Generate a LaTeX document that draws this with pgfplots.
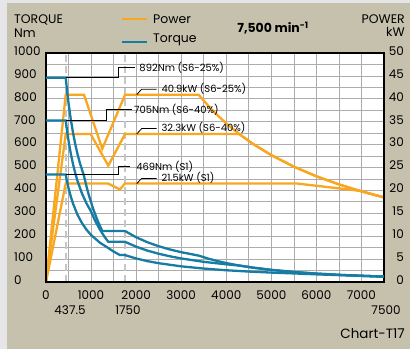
\documentclass[border=0pt]{standalone}
\usepackage{pgfplots}
\pgfplotsset{compat=1.18}
\usepackage{fontspec}
\setmainfont{Poppins}
\definecolor{bgbeige}{RGB}{197,193,173}
\definecolor{bggray}{RGB}{230,230,233}
\definecolor{porange}{RGB}{248,167,30}
\definecolor{tblue}{RGB}{22,124,163}
\definecolor{gridgray}{RGB}{172,172,172}
\newcommand{\tickfont}{\fontsize{12}{14}\selectfont}
\newcommand{\annfont}{\fontsize{10}{12}\selectfont}
\begin{document}
\begin{tikzpicture}
\fill[bggray] (0bp,0bp) rectangle (410bp,349bp);
\fill[bgbeige] (7bp,0bp) rectangle (410bp,346bp);
% ---------- power axis (right) ----------
\begin{axis}[
  at={(46bp,67bp)}, anchor=south west,
  scale only axis, width=338bp, height=229bp,
  xmin=0, xmax=7500, ymin=0, ymax=50,
  axis background/.style={fill=white},
  xtick={0,1000,2000,3000,4000,5000,6000,7000},
  xticklabels={0,1000,2000,3000,4000,5000,6000,7000},
  minor x tick num=1,
  ytick={0,5,...,50}, minor y tick num=1,
  grid=both,
  grid style={gridgray, line width=0.7bp},
  minor grid style={gridgray, line width=0.7bp},
  major tick length=0pt, minor tick length=0pt,
  axis line style={line width=1.6bp, black},
  yticklabel pos=right,
  yticklabel style={anchor=east, xshift=20bp, yshift=2bp, inner sep=0pt},
  xticklabel style={anchor=center, yshift=-13bp, inner sep=0pt},
  scaled x ticks=false, scaled y ticks=false,
  /pgf/number format/1000 sep={},
  /pgf/number format/assume math mode=true,
  tick label style={font=\tickfont},
  clip=true,
]
% reference lines at base speeds
\addplot[gray!45, line width=1.6bp, dash pattern=on 7bp off 4bp] coordinates {(437.5,0) (437.5,50)};
\addplot[gray!45, line width=1.6bp, dash pattern=on 7bp off 4bp] coordinates {(1750,0) (1750,50)};
% Power S6-25%
\addplot[porange, line width=2.3bp] coordinates {
(0,0) (437.5,40.9) (843,40.9) (1249,29.1) (1755,40.9) (3386,40.9) (3600,38.47) (3800,36.45) (4000,34.63) (4288,32.30) (4600,30.11) (5000,27.70) (5500,25.18) (6000,23.08) (6500,21.31) (6950,19.93) (7000,19.79) (7500,18.47)};
% Power S6-40%
\addplot[porange, line width=2.3bp] coordinates {
(0,0) (437.5,32.3) (991,32.3) (1382,25.4) (1753,32.3) (4288,32.3) (4600,30.11) (5000,27.70) (5500,25.18) (6000,23.08) (6500,21.31) (6950,19.93) (7000,19.79) (7500,18.47)};
% Power S1
\addplot[porange, line width=2.3bp] coordinates {
(0,0) (437.5,21.5) (1376,21.5) (1640,20.2) (1750,21.5) (5570,21.5) (6950,19.93) (7000,19.79) (7500,18.47)};
\end{axis}
% ---------- torque axis (left) ----------
\begin{axis}[
  at={(46bp,67bp)}, anchor=south west,
  scale only axis, width=338bp, height=229bp,
  xmin=0, xmax=7500, ymin=0, ymax=1000,
  xtick=\empty,
  ytick={0,100,...,1000},
  major tick length=0pt,
  axis line style={line width=1.6bp, black},
  yticklabel style={anchor=west, xshift=-32bp, yshift=2bp, inner sep=0pt},
  scaled y ticks=false,
  /pgf/number format/1000 sep={},
  /pgf/number format/assume math mode=true,
  tick label style={font=\tickfont},
  clip=true,
]
% Torque S6-25%
\addplot[tblue, line width=2.3bp] coordinates {
(0,892) (437.5,892) (475,822.2) (500,781.1) (550,710.1) (600,650.9) (650,600.9) (700,558.0) (750,520.8) (843,463.3) (900,416.3) (950,379.9) (1050,317.2) (1150,265.5) (1249,222.5) (1755,222.5) (2000,195.3) (2250,173.6) (2500,156.2) (2750,142.0) (3000,130.2) (3386,115.3) (3600,102.1) (3800,91.6) (4000,82.7) (4288,71.9) (4600,62.5) (5000,52.9) (5500,43.7) (6000,36.7) (6500,31.3) (7000,27.0) (7500,23.5)};
% Torque S6-40%
\addplot[tblue, line width=2.3bp] coordinates {
(0,705) (437.5,705) (475,649.4) (500,616.9) (550,560.8) (600,514.1) (650,474.5) (700,440.6) (800,385.6) (900,342.7) (991,311.2) (1100,263.7) (1200,227.7) (1300,197.2) (1382,175.5) (1753,175.5) (2000,154.2) (2250,137.1) (2500,123.4) (2750,112.2) (3000,102.8) (3500,88.1) (4000,77.1) (4288,71.9) (4600,62.5) (5000,52.9) (5500,43.7) (6000,36.7) (6500,31.3) (7000,27.0) (7500,23.5)};
% Torque S1
\addplot[tblue, line width=2.3bp] coordinates {
(0,469) (437.5,469) (475,432.2) (500,410.6) (550,373.3) (600,342.2) (700,293.3) (800,256.6) (900,228.1) (1000,205.3) (1200,171.1) (1376,149.2) (1500,133.0) (1640,117.6) (1750,117.6) (2000,102.7) (2250,91.2) (2500,82.1) (3000,68.4) (3500,58.7) (4000,51.3) (4500,45.6) (5000,41.1) (5570,36.9) (6000,33.4) (6500,30.0) (6950,27.4) (7000,27.0) (7500,23.5)};
% leader lines (torque)
\addplot[black, line width=0.8bp] coordinates {(437.5,892) (1600,892) (1600,937) (1975,937)};
\addplot[black, line width=0.8bp] coordinates {(437.5,705) (1345,705) (1345,752) (1900,752)};
\addplot[black, line width=0.8bp] coordinates {(437.5,469) (1600,469) (1600,505) (1870,505)};
% leader lines (power, kW x 20)
\addplot[black, line width=0.8bp] coordinates {(2012,818) (2123,842) (2456,842)};
\addplot[black, line width=0.8bp] coordinates {(2012,646) (2123,670) (2456,670)};
\addplot[black, line width=0.8bp] coordinates {(2012,430) (2123,452) (2456,452)};
\node[anchor=west, inner sep=0pt, font=\annfont] at (axis cs:2070,937) {892Nm (S6-25\%)};
\node[anchor=west, inner sep=0pt, font=\annfont] at (axis cs:1950,752) {705Nm (S6-40\%)};
\node[anchor=west, inner sep=0pt, font=\annfont] at (axis cs:2000,505) {469Nm (S1)};
\node[anchor=west, inner sep=0pt, font=\annfont] at (axis cs:2560,843) {40.9kW (S6-25\%)};
\node[anchor=west, inner sep=0pt, font=\annfont] at (axis cs:2560,673) {32.3kW (S6-40\%)};
\node[anchor=west, inner sep=0pt, font=\annfont] at (axis cs:2560,453) {21.5kW (S1)};
\end{axis}
% second-row speed labels
\node[anchor=center, inner sep=0pt, font=\tickfont] at (70bp,39bp) {437.5};
\node[anchor=center, inner sep=0pt, font=\tickfont] at (128bp,39bp) {1750};
\node[anchor=center, inner sep=0pt, font=\tickfont] at (386bp,39bp) {7500};
% titles and legend
\node[anchor=base west, inner sep=0pt, font=\fontsize{12.5}{14}\selectfont] at (14bp,325bp) {TORQUE};
\node[anchor=base west, inner sep=0pt, font=\fontsize{12.5}{14}\selectfont] at (14bp,311bp) {Nm};
\node[anchor=base east, inner sep=0pt, font=\fontsize{12.5}{14}\selectfont] at (405bp,325bp) {POWER};
\node[anchor=base east, inner sep=0pt, font=\fontsize{12.5}{14}\selectfont] at (405bp,312bp) {kW};
\node[anchor=base, inner sep=0pt, font=\bfseries\fontsize{12.5}{14}\selectfont] at (273bp,316bp) {7,500 min\textsuperscript{-1}};
\draw[porange, line width=2.5bp] (122bp,330bp) -- (147bp,330bp);
\draw[tblue, line width=2.5bp] (122bp,307bp) -- (147bp,307bp);
\node[anchor=base west, inner sep=0pt, font=\fontsize{12.5}{14}\selectfont] at (153bp,325bp) {Power};
\node[anchor=base west, inner sep=0pt, font=\fontsize{12.5}{14}\selectfont] at (153bp,306bp) {Torque};
\node[anchor=base east, inner sep=0pt, font=\fontsize{13.5}{15}\selectfont] at (405bp,11bp) {Chart-T17};
\end{tikzpicture}
\end{document}
